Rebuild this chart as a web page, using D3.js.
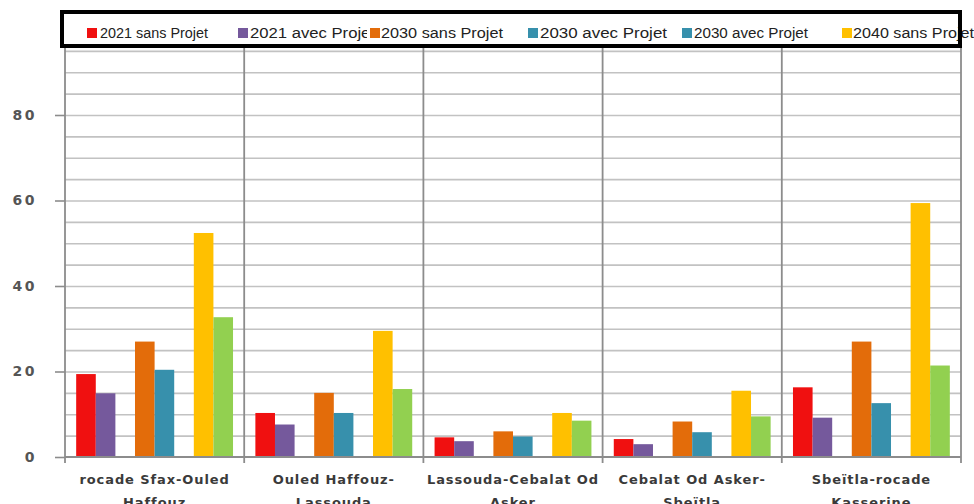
<!DOCTYPE html>
<html>
<head>
<meta charset="utf-8">
<script src="https://cdn.jsdelivr.net/npm/d3@7"></script>
<style>
  html, body { margin: 0; padding: 0; background: #fff; }
  svg { display: block; }
</style>
</head>
<body>
<svg id="chart" width="974" height="504"></svg>
<script>
// Road sections (two-line labels under each group)
const categories = [
  "rocade Sfax-Ouled Haffouz",
  "Ouled Haffouz-Lassouda",
  "Lassouda-Cebalat Od Asker",
  "Cebalat Od Asker-Sbeïtla",
  "Sbeïtla-rocade Kasserine"
];
const categoryLines = [
  ["rocade Sfax-Ouled", "Haffouz"],
  ["Ouled Haffouz-", "Lassouda"],
  ["Lassouda-Cebalat Od", "Asker"],
  ["Cebalat Od Asker-", "Sbeïtla"],
  ["Sbeïtla-rocade", "Kasserine"]
];

// Series, one value per road section
const seriesNames = [
  "2021 sans Projet", "2021 avec Projet",
  "2030 sans Projet", "2030 avec Projet",
  "2040 sans Projet", "2040 avec Projet"
];
const s2021sans = [19.4, 10.3, 4.6, 4.2, 16.3];
const s2021avec = [14.9, 7.6, 3.7, 3.0, 9.2];
const s2030sans = [27.0, 15.0, 6.0, 8.3, 27.0];
const s2030avec = [20.4, 10.3, 4.8, 5.8, 12.6];
const s2040sans = [52.4, 29.5, 10.3, 15.5, 59.4];
const s2040avec = [32.7, 15.9, 8.5, 9.5, 21.4];
const seriesValues = [s2021sans, s2021avec, s2030sans, s2030avec, s2040sans, s2040avec];
const seriesColors = ["#f01010", "#75599c", "#e36c0a", "#3790ac", "#ffc000", "#92d050"];

// Legend entries as they appear in the header box
const legendLabels = ["2021 sans Projet", "2021 avec Projet", "2030 sans Projet",
                      "2030 avec Projet", "2030 avec Projet", "2040 sans Projet"];
const legendColors = ["#f01010", "#75599c", "#e36c0a", "#3790ac", "#3790ac", "#ffc000"];

// Y axis ticks
const yTicks = [0, 20, 40, 60, 80];

// ---- layout ----
const plot = { left: 65, right: 961, top: 29.5, bottom: 457 };
const svg = d3.select("#chart");

const x = d3.scaleBand().domain(categories).range([plot.left, plot.right]).padding(0);
// eight slots per group: pair, gap, pair, gap, pair
const slotOf = [0, 1, 3, 4, 6, 7];
const xi = d3.scaleBand().domain(d3.range(8)).range([0, x.bandwidth()])
  .paddingInner(0).paddingOuter(0.57);
const y = d3.scaleLinear().domain([0, 100]).range([plot.bottom, plot.top]);

// horizontal gridlines every 5
const grid = svg.append("g")
  .attr("transform", `translate(${plot.left},0)`)
  .call(d3.axisLeft(y).tickValues(d3.range(5, 100, 5)).tickSize(-(plot.right - plot.left)).tickFormat(""));
grid.select(".domain").remove();
grid.selectAll("line").attr("stroke", "#c2c2c2").attr("stroke-width", 1.6);

// bars
const groups = svg.append("g").selectAll("g")
  .data(categories)
  .join("g")
  .attr("transform", d => `translate(${x(d)},0)`);

groups.selectAll("rect")
  .data((c, ci) => seriesValues.map((vals, si) => ({ si, v: vals[ci] })))
  .join("rect")
  .attr("x", d => xi(slotOf[d.si]))
  .attr("width", xi.bandwidth())
  .attr("y", d => y(d.v))
  .attr("height", d => y(0) - y(d.v))
  .attr("fill", d => seriesColors[d.si]);

// category separators (run below the baseline as tick marks)
const bounds = categories.map(c => x(c)).concat([plot.right]);
svg.append("g").selectAll("line")
  .data(bounds)
  .join("line")
  .attr("x1", d => d).attr("x2", d => d)
  .attr("y1", plot.top).attr("y2", plot.bottom + 6)
  .attr("stroke", "#8c8c8c").attr("stroke-width", 1.8);

// baseline
svg.append("line")
  .attr("x1", plot.left).attr("x2", plot.right)
  .attr("y1", y(0)).attr("y2", y(0))
  .attr("stroke", "#8c8c8c").attr("stroke-width", 1.8);

// y axis
const yAxis = svg.append("g")
  .attr("transform", `translate(${plot.left},0)`)
  .call(d3.axisLeft(y).tickValues(yTicks).tickSize(10).tickPadding(18));
yAxis.select(".domain").remove();
yAxis.selectAll("line").attr("stroke", "#8c8c8c").attr("stroke-width", 1.6);
yAxis.selectAll("text")
  .attr("fill", "#555")
  .style("font-family", "'DejaVu Sans', sans-serif")
  .style("font-size", "14px")
  .style("font-weight", "bold")
  .style("letter-spacing", "2.5px");

// x labels
const xLab = svg.append("g").selectAll("text")
  .data(categories)
  .join("text")
  .attr("x", d => x(d) + x.bandwidth() / 2)
  .attr("y", plot.bottom + 27)
  .attr("text-anchor", "middle")
  .attr("fill", "#3a3a3a")
  .style("font-family", "'DejaVu Sans', sans-serif")
  .style("font-size", "13px")
  .style("font-weight", "bold")
  .style("letter-spacing", "0.9px");
xLab.selectAll("tspan")
  .data((d, i) => categoryLines[i])
  .join("tspan")
  .attr("x", function () { return d3.select(this.parentNode).attr("x"); })
  .attr("dy", (d, i) => i === 0 ? 0 : 23)
  .text(d => d);

// legend box
const legendX = [87, 238, 370, 528, 682, 842];
const legendGap = [13, 12, 11, 12, 12, 11];
const legendTextW = [108, 125, 122, 127, 114, 121];
const legendClipW = [140, 129, 150, 150, 150, 200];
const defs = svg.append("defs");
legendLabels.forEach((l, i) => {
  defs.append("clipPath").attr("id", "lc" + i)
    .append("rect").attr("x", legendX[i]).attr("y", 15).attr("width", legendClipW[i]).attr("height", 30);
});
svg.append("rect")
  .attr("x", 62).attr("y", 12).attr("width", 898).attr("height", 34)
  .attr("fill", "#fff");
const leg = svg.append("g").selectAll("g")
  .data(legendLabels)
  .join("g")
  .attr("clip-path", (d, i) => `url(#lc${i})`);
leg.append("rect")
  .attr("x", (d, i) => legendX[i]).attr("y", 28)
  .attr("width", 10).attr("height", 10)
  .attr("fill", (d, i) => legendColors[i]);
leg.append("text")
  .attr("x", (d, i) => legendX[i] + legendGap[i])
  .attr("y", 38)
  .attr("textLength", (d, i) => legendTextW[i])
  .attr("lengthAdjust", "spacingAndGlyphs")
  .attr("fill", "#222")
  .style("font-family", "'Liberation Sans', sans-serif")
  .style("font-size", "14px")
  .text(d => d);
svg.append("rect")
  .attr("x", 62).attr("y", 12).attr("width", 898).attr("height", 34)
  .attr("fill", "none").attr("stroke", "#000").attr("stroke-width", 4);
</script>
</body>
</html>
